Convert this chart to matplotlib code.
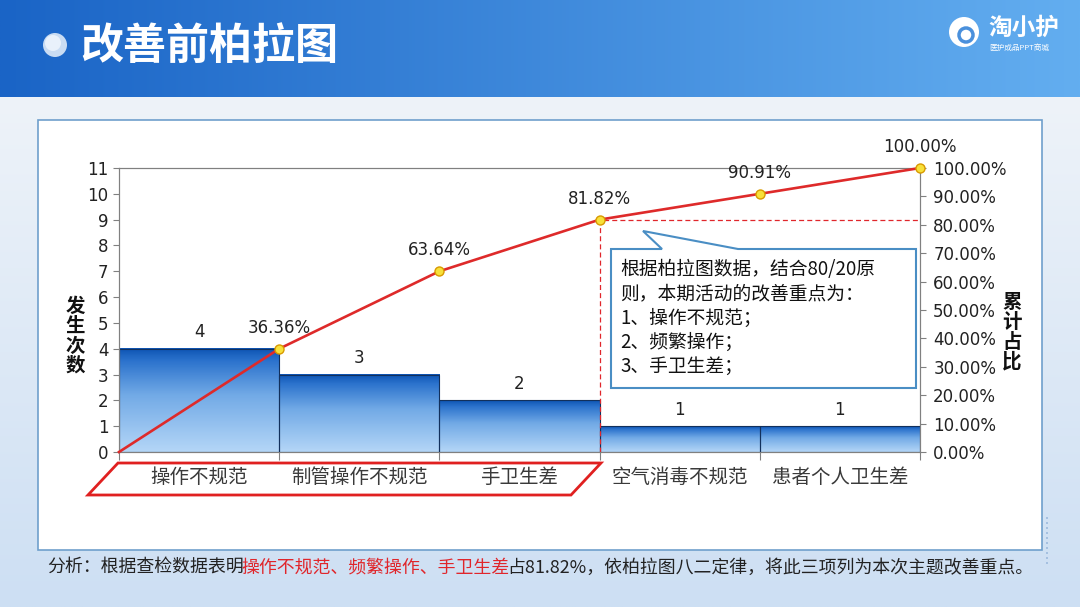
import matplotlib
matplotlib.use('Agg')
import matplotlib.pyplot as plt
import numpy as np
from matplotlib.colors import LinearSegmentedColormap, to_rgb
from matplotlib.patches import Polygon, Rectangle, Circle
from matplotlib.ticker import FixedLocator, FuncFormatter, NullFormatter

plt.rcParams['font.family'] = ['Noto Sans CJK SC', 'DejaVu Sans']

# ---- data ----
categories = ['操作不规范', '制管操作不规范', '手卫生差', '空气消毒不规范', '患者个人卫生差']
counts = [4, 3, 2, 1, 1]
cum_pct = [36.36, 63.64, 81.82, 90.91, 100.00]
key_items = 3          # items under the 80% line
count_ticks = list(range(0, 12))
pct_ticks = list(range(0, 101, 10))

title = '改善前柏拉图'
callout_lines = ['根据柏拉图数据，结合80/20原', '则，本期活动的改善重点为：',
                 '1、操作不规范；', '2、频繁操作；', '3、手卫生差；']
note_parts = [('分析：根据查检数据表明', '#222222'),
              ('操作不规范、频繁操作、手卫生差', '#e0262b'),
              ('占81.82%，依柏拉图八二定律，将此三项列为本次主题改善重点。', '#222222')]

W, H = 1080, 607
fig = plt.figure(figsize=(W / 100, H / 100), dpi=100)

# ---- background / slide decoration (pixel coords) ----
bg = fig.add_axes([0, 0, 1, 1])
bg.set_xlim(0, W)
bg.set_ylim(H, 0)
bg.axis('off')

# header band, horizontal gradient
c0, c1 = np.array(to_rgb('#1a64c6')), np.array(to_rgb('#63aef0'))
t = np.linspace(0, 1, 400)[None, :, None]
hdr = c0 + (c1 - c0) * t
hdr = np.repeat(hdr, 20, axis=0)
bg.imshow(hdr, extent=[0, W, 97, 0], aspect='auto', origin='upper', zorder=0)

# lower background, vertical gradient
b0, b1 = np.array(to_rgb('#eef3f9')), np.array(to_rgb('#cddff3'))
s = np.linspace(0, 1, 200)[:, None, None]
low = b0 + (b1 - b0) * s
low = np.repeat(low, 10, axis=1)
bg.imshow(low, extent=[0, W, H, 97], aspect='auto', origin='upper', zorder=0)
bg.set_xlim(0, W)
bg.set_ylim(H, 0)

# white panel
bg.add_patch(Rectangle((38, 120), 1004, 430, facecolor='white',
                       edgecolor='#6f9fcc', lw=1.2, zorder=1))

# title bullet + title
bg.add_patch(Circle((55, 45), 12, facecolor='#c9dcf3', edgecolor='none', zorder=2))
bg.add_patch(Circle((53, 43), 8, facecolor='#e9f1fb', edgecolor='none', zorder=2))
bg.text(80, 46, title, color='white', fontsize=31, fontweight='bold',
        va='center', ha='left', zorder=3)

# logo
bg.add_patch(Circle((964, 32), 15, facecolor='white', edgecolor='none', zorder=2))
bg.add_patch(Circle((966, 35), 7, facecolor='white', edgecolor='#4a90dc', lw=2.5, zorder=3))
bg.text(988, 28, '淘小护', color='white', fontsize=17, fontweight='bold',
        va='center', ha='left', zorder=3)
bg.text(989, 48, '医护成品PPT商城', color='white', fontsize=5.5,
        va='center', ha='left', zorder=3)

# dotted decoration at bottom right
for yy in range(518, 564, 5):
    bg.add_patch(Circle((1047, yy), 1.0, facecolor='#9ab8dc', edgecolor='none', zorder=2))

# ---- chart ----
ax = fig.add_axes([119 / W, 1 - 452 / H, 801 / W, 284 / H], zorder=2)
ax.set_facecolor('none')
n = len(counts)
x = np.arange(n) + 0.5

bar_cmap = LinearSegmentedColormap.from_list(
    'bar', [(0, '#b4d6f7'), (0.55, '#72aae6'), (0.88, '#2c73cd'), (1, '#0e55b4')])
grad = np.linspace(0, 1, 100)[:, None]
bars = ax.bar(x, counts, width=1.0, facecolor='none', edgecolor='#12305c',
              linewidth=0.8, zorder=3)
for b in bars:
    ax.imshow(grad, extent=[b.get_x(), b.get_x() + b.get_width(), 0, b.get_height()],
              aspect='auto', origin='lower', cmap=bar_cmap, zorder=2)
ax.set_xlim(0, n)
ax.set_ylim(0, 11)

for xi, c in zip(x, counts):
    ax.annotate(str(c), (xi, c), xytext=(0, 12), textcoords='offset points',
                ha='center', va='center', fontsize=12, family='DejaVu Sans', color='#222222')

ax.yaxis.set_major_locator(FixedLocator(count_ticks))
ax.tick_params(axis='y', direction='out', length=4.5, width=0.8, color='#808080',
               labelsize=12, labelcolor='#222222', pad=3)
for lab in ax.get_yticklabels():
    lab.set_family('DejaVu Sans')

ax.xaxis.set_major_locator(FixedLocator(np.arange(n + 1)))
ax.xaxis.set_major_formatter(NullFormatter())
ax.xaxis.set_minor_locator(FixedLocator(x))
ax.xaxis.set_minor_formatter(FuncFormatter(lambda v, p: categories[int(v)]))
ax.tick_params(axis='x', which='major', direction='out', length=6, width=0.8, color='#808080')
ax.tick_params(axis='x', which='minor', length=0, pad=11, labelsize=14, labelcolor='#3a3a3a')

for sp in ax.spines.values():
    sp.set_color('#808080')
    sp.set_linewidth(0.8)

ax2 = ax.twinx()
ax2.set_ylim(0, 100)
ax2.yaxis.set_major_locator(FixedLocator(pct_ticks))
ax2.yaxis.set_major_formatter(FuncFormatter(lambda v, p: f'{v:.2f}%'))
ax2.tick_params(axis='y', direction='out', length=4.5, width=0.8, color='#808080',
                labelsize=12, labelcolor='#222222', pad=5)
for lab in ax2.get_yticklabels():
    lab.set_family('DejaVu Sans')
for sp in ax2.spines.values():
    sp.set_color('#808080')
    sp.set_linewidth(0.8)

# 80% guide
ax2.plot([key_items, key_items, n], [0, cum_pct[key_items - 1], cum_pct[key_items - 1]],
         color='#e0262b', lw=0.9, ls=(0, (4, 2.5)), zorder=3)

# cumulative line
ax2.plot(np.arange(n + 1), [0] + cum_pct, color='#de2a2a', lw=1.9, zorder=4,
         clip_on=False)
ax2.plot(np.arange(1, n + 1), cum_pct, 'o', mfc='#f7e03a', mec='#d89a00',
         ms=6.5, mew=1, zorder=5, clip_on=False)
for xi, v in zip(np.arange(1, n + 1), cum_pct):
    ax2.annotate(f'{v:.2f}%', (xi, v), xytext=(0, 15), textcoords='offset points',
                 ha='center', va='center', fontsize=12, family='DejaVu Sans',
                 color='#222222', annotation_clip=False)

# axis titles (stacked vertical chars)
for i, ch in enumerate('发生次数'):
    bg.text(75, 306 + i * 20, ch, fontsize=14, fontweight='bold', ha='center',
            va='center', color='#111111', zorder=3)
for i, ch in enumerate('累计占比'):
    bg.text(1012, 302 + i * 20, ch, fontsize=14, fontweight='bold', ha='center',
            va='center', color='#111111', zorder=3)

# ---- overlay: callout + highlight frame ----
ov = fig.add_axes([0, 0, 1, 1], zorder=5)
ov.set_xlim(0, W)
ov.set_ylim(H, 0)
ov.axis('off')

ov.add_patch(Polygon([(611, 249), (662, 249), (643, 231), (738, 249), (916, 249),
                      (916, 388), (611, 388)], closed=True, facecolor='white',
                     edgecolor='#4a8ec4', lw=1.5))
for i, line in enumerate(callout_lines):
    ov.text(620, 270 + i * 24.2, line, fontsize=13.5, ha='left', va='center', color='#111111')

ov.add_patch(Polygon([(118, 463), (601, 463), (571, 495), (88, 495)], closed=True,
                     facecolor='none', edgecolor='#e02020', lw=2.0))

# bottom note, coloured runs placed side by side on a shared baseline
renderer = fig.canvas.get_renderer()
xx = 47
for txt, col in note_parts:
    tt = ov.text(xx, 573, txt, fontsize=12.9, color=col, ha='left', va='baseline')
    xx = tt.get_window_extent(renderer).x1 - 2.5

fig.savefig('out.png', dpi=100)
